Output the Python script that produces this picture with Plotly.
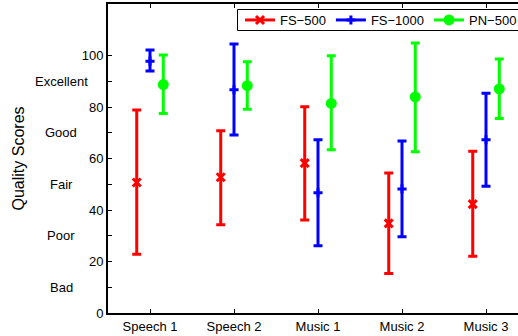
import plotly.graph_objects as go

categories = ["Speech 1", "Speech 2", "Music 1", "Music 2", "Music 3"]
series_names = ["FS−500", "FS−1000", "PN−500"]

fs500_mean = [50.7, 52.7, 58.2, 34.8, 42.3]
fs500_upper = [78.8, 70.8, 80.1, 54.4, 62.8]
fs500_lower = [22.8, 34.3, 36.1, 15.3, 22.0]

fs1000_mean = [97.8, 86.7, 46.7, 48.2, 67.3]
fs1000_upper = [102.1, 104.5, 67.3, 66.8, 85.3]
fs1000_lower = [94.0, 69.1, 26.1, 29.6, 49.2]

pn500_mean = [88.7, 88.3, 81.4, 83.9, 87.0]
pn500_upper = [100.2, 97.6, 99.9, 104.9, 98.6]
pn500_lower = [77.5, 79.1, 63.4, 62.6, 75.5]

y_tick_values = [0, 10, 20, 30, 40, 50, 60, 70, 80, 90, 100]
y_tick_labels = ["0", "", "20", "", "40", "", "60", "", "80", "", "100"]
rating_values = [10, 30, 50, 70, 90]
rating_labels = ["Bad", "Poor", "Fair", "Good", "Excellent"]

colors = ["#ff0000", "#0000ff", "#00ff00"]
symbols = ["x-thin", "cross-thin", "circle"]
sizes = [8, 6.5, 8]
offsets = [-0.158, 0.0, 0.158]

means = [fs500_mean, fs1000_mean, pn500_mean]
uppers = [fs500_upper, fs1000_upper, pn500_upper]
lowers = [fs500_lower, fs1000_lower, pn500_lower]

font_family = "Liberation Sans, Arial, Helvetica, sans-serif"

fig = go.Figure()
base_x = list(range(1, len(categories) + 1))

for name, m, up, lo, c, s, sz, off in zip(series_names, means, uppers, lowers,
                                           colors, symbols, sizes, offsets):
    xs = [b + off for b in base_x]
    fig.add_trace(go.Scatter(
        x=xs, y=m, mode="markers", showlegend=False, hoverinfo="skip",
        marker=dict(symbol=s, size=sz, color=c,
                    line=dict(color=c, width=3)),
        error_y=dict(type="data", symmetric=False,
                     array=[u - v for u, v in zip(up, m)],
                     arrayminus=[v - l for v, l in zip(m, lo)],
                     color=c, thickness=3, width=4.5),
    ))
    # legend entry (line + marker, as in the original legend)
    fig.add_trace(go.Scatter(
        x=[None], y=[None], mode="lines+markers", name=name,
        line=dict(color=c, width=3),
        marker=dict(symbol=s, size=sz, color=c,
                    line=dict(color=c, width=3)),
    ))

annotations = []
for v, lab in zip(rating_values, rating_labels):
    annotations.append(dict(
        x=-0.1146, xref="paper", y=v, yref="y", text=lab, showarrow=False,
        xanchor="center", yanchor="middle",
        font=dict(family=font_family, size=13, color="#000000")))
annotations.append(dict(
    x=-0.2195, xref="paper", y=0.5, yref="paper", text="Quality Scores",
    textangle=-90, showarrow=False, xanchor="center", yanchor="middle",
    font=dict(family=font_family, size=16, color="#000000")))

# legend frame (paper coordinates)
legend_box = dict(type="rect", xref="paper", yref="paper",
                  x0=(237.5 - 108) / 410, x1=1.2,
                  y0=1 - (30.5 - 4) / 309, y1=1 - (9.5 - 4) / 309,
                  line=dict(color="black", width=1), fillcolor="white",
                  layer="above")

fig.update_layout(
    width=518, height=336,
    margin=dict(l=108, r=0, t=4, b=23, autoexpand=False),
    paper_bgcolor="white", plot_bgcolor="white",
    font=dict(family=font_family, size=13, color="#000000"),
    annotations=annotations,
    shapes=[legend_box],
    legend=dict(orientation="h", x=(240 - 108) / 410, xanchor="left",
                y=1 - (20 - 4) / 309, yanchor="middle",
                bgcolor="rgba(0,0,0,0)", borderwidth=0,
                font=dict(size=13, color="#000000"),
                itemclick=False),
    xaxis=dict(range=[0.5, 0.5 + 410 / 84], tickvals=base_x,
               ticktext=categories, ticks="inside", ticklen=4,
               tickwidth=1, tickcolor="black", showgrid=False,
               zeroline=False, showline=True, linecolor="black",
               linewidth=2, mirror="ticks",
               tickfont=dict(size=13, color="#000000")),
    yaxis=dict(range=[0, 120], tickvals=y_tick_values,
               ticktext=y_tick_labels, ticks="inside", ticklen=4,
               tickwidth=1, tickcolor="black", showgrid=False,
               zeroline=False, showline=True, linecolor="black",
               linewidth=2, tickfont=dict(size=13, color="#000000")),
)

fig.write_html("out.html",
               config={"displayModeBar": False},
               post_script="document.body.style.margin='0';"
                           "document.body.style.overflow='hidden';")
